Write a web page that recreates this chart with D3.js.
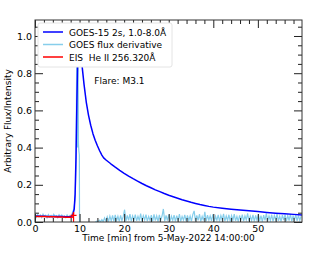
<!DOCTYPE html>
<html>
<head>
<meta charset="utf-8">
<script src="https://cdn.jsdelivr.net/npm/d3@7"></script>
<style>
  body { margin: 0; background: #fff; }
  text { font-family: "DejaVu Sans", sans-serif; fill: #000; }
</style>
</head>
<body>
<div id="chart"></div>
<script>
'use strict';

// GOES-15 2s flux, normalised [minutes, value]
var goesFlux = [
    [0, 0.032], [1, 0.031], [2, 0.031], [3, 0.030], [4, 0.030], [5, 0.029],
    [6, 0.029], [7, 0.028], [7.8, 0.028], [8.2, 0.030], [8.5, 0.040], [8.8, 0.070],
    [9.0, 0.15], [9.2, 0.35], [9.4, 0.65], [9.6, 0.90], [9.8, 1.0], [10.0, 0.97],
    [10.3, 0.90], [10.6, 0.83], [11.0, 0.74], [11.5, 0.645], [12.0, 0.575], [12.5, 0.52],
    [13.0, 0.475], [13.5, 0.44], [14.0, 0.41], [14.5, 0.383], [15.0, 0.36], [15.4, 0.345],
    [16, 0.332], [17, 0.313], [18, 0.295], [19, 0.278], [20, 0.262], [21, 0.247],
    [22, 0.233], [23, 0.220], [24, 0.207], [25, 0.195], [26, 0.184], [27, 0.173],
    [28, 0.163], [29, 0.153], [30, 0.144], [31, 0.136], [32, 0.128], [33, 0.120],
    [34, 0.113], [35, 0.106], [36, 0.100], [37, 0.094], [38, 0.089], [39, 0.084],
    [40, 0.080], [42, 0.074], [44, 0.069], [46, 0.064], [48, 0.060], [50, 0.056],
    [52, 0.051], [54, 0.047], [56, 0.044], [58, 0.041], [59.9, 0.038]
];

// GOES flux derivative around the impulsive phase [minutes, value]
var derivHead = [
    [0, 0.035], [0.3, 0.025], [0.6, 0.040], [0.9, 0.028], [1.2, 0.038], [1.5, 0.024],
    [1.8, 0.042], [2.1, 0.030], [2.4, 0.036], [2.7, 0.022], [3.0, 0.040], [3.3, 0.027],
    [3.6, 0.035], [3.9, 0.025], [4.2, 0.041], [4.5, 0.029], [4.8, 0.034], [5.1, 0.023],
    [5.4, 0.039], [5.7, 0.028], [6.0, 0.037], [6.3, 0.026], [6.6, 0.033], [6.9, 0.024],
    [7.2, 0.038], [7.5, 0.027], [7.8, 0.035], [8.1, 0.030], [8.4, 0.050], [8.7, 0.070],
    [9.0, 0.12], [9.2, 0.30], [9.35, 0.85], [9.45, 1.05], [9.55, 0.40], [9.65, 0.95],
    [9.75, 0.42], [9.85, 0.38], [9.95, 0.36], [10.0, -0.1], [10.5, -0.15], [11.5, -0.1],
    [12.5, -0.06], [13.3, -0.02], [13.6, 0.0]
];

// derivative in the decay phase, one value every 0.3 min from 13.8 min
var derivTailStart = 13.8;
var derivTailStep = 0.3;
var derivTail = [
    0.004, 0.000, 0.010, 0.001, 0.013, 0.002, 0.022, 0.004, 0.028, 0.003,
    0.032, 0.006, 0.035, 0.004, 0.038, 0.008, 0.031, 0.003, 0.036, 0.007,
    0.030, 0.066, 0.005, 0.036, 0.009, 0.042, 0.004, 0.033, 0.010, 0.039,
    0.006, 0.031, 0.008, 0.045, 0.003, 0.034, 0.011, 0.040, 0.005, 0.030,
    0.009, 0.037, 0.004, 0.041, 0.008, 0.033, 0.002, 0.038, 0.010, 0.032,
    0.070, 0.005, 0.036, 0.007, 0.040, 0.003, 0.031, 0.009, 0.037, 0.004,
    0.034, 0.008, 0.042, 0.003, 0.030, 0.010, 0.038, 0.005, 0.035, 0.007,
    0.032, 0.004, 0.040, 0.060, 0.006, 0.036, 0.009, 0.043, 0.003, 0.030,
    0.008, 0.055, 0.004, 0.037, 0.010, 0.033, 0.006, 0.041, 0.002, 0.031,
    0.009, 0.038, 0.004, 0.035, 0.011, 0.044, 0.005, 0.032, 0.008, 0.039,
    0.003, 0.034, 0.010, 0.042, 0.006, 0.030, 0.002, 0.036, 0.009, 0.040,
    0.005, 0.033, 0.011, 0.046, 0.004, 0.031, 0.008, 0.038, 0.003, 0.035,
    0.010, 0.041, 0.006, 0.034, 0.002, 0.037, 0.009, 0.047, 0.005, 0.032,
    0.008, 0.039, 0.004, 0.035, 0.011, 0.042, 0.006, 0.031, 0.003, 0.037,
    0.010, 0.040, 0.005, 0.034, 0.008, 0.043, 0.004, 0.033, 0.011, 0.038,
    0.006, 0.036, 0.009, 0.031
];

// EIS He II 256.320 intensity [minutes, value]
var eisHeII = [
    [0, 0.030], [1, 0.029], [2, 0.029], [3, 0.028], [4, 0.028], [5, 0.027],
    [6, 0.027], [7, 0.026], [8, 0.025], [8.5, 0.027], [8.65, 0.048]
];

var xMajor = [0, 10, 20, 30, 40, 50];
var yMajor = [0, 0.2, 0.4, 0.6, 0.8, 1.0];

var legendLabels = ['GOES-15 2s, 1.0-8.0Å', 'GOES flux derivative', 'EIS  He II 256.320Å'];
var legendColors = ['#0000ff', '#87ceeb', '#ff0000'];

var W = 311, H = 253;
var margin = {top: 20, right: 9, bottom: 31, left: 35};
var width = W - margin.left - margin.right;
var height = H - margin.top - margin.bottom;

var svg = d3.select('#chart').append('svg')
    .attr('width', W)
    .attr('height', H);

var g = svg.append('g')
    .attr('transform', 'translate(' + margin.left + ',' + margin.top + ')');

var x = d3.scaleLinear().domain([0, 59.9]).range([0, width]);
var y = d3.scaleLinear().domain([0, 1.086]).range([height, 0]);

svg.append('defs').append('clipPath').attr('id', 'clip')
    .append('rect').attr('width', width).attr('height', height);

var derivData = derivHead.concat(derivTail.map(function(v, i) {
    return [derivTailStart + i * derivTailStep, v];
}));

var line = d3.line()
    .x(function(d) { return x(d[0]); })
    .y(function(d) { return y(d[1]); });

var plot = g.append('g').attr('clip-path', 'url(#clip)');

plot.append('path').datum(derivData)
    .attr('d', line)
    .attr('fill', 'none')
    .attr('stroke', legendColors[1])
    .attr('stroke-width', 1.2);

plot.append('path').datum(goesFlux)
    .attr('d', line)
    .attr('fill', 'none')
    .attr('stroke', legendColors[0])
    .attr('stroke-width', 1.5)
    .attr('stroke-linejoin', 'round');

plot.append('path').datum(eisHeII)
    .attr('d', line)
    .attr('fill', 'none')
    .attr('stroke', legendColors[2])
    .attr('stroke-width', 1.5);

// end marker of the EIS series
var eisLast = eisHeII[eisHeII.length - 1];
plot.append('path')
    .attr('d', 'M' + (x(eisLast[0]) - 3) + ',' + y(eisLast[1] - 0.012) + 'h6' +
        'M' + x(eisLast[0]) + ',' + (y(eisLast[1]) - 1) + 'V' + height)
    .attr('stroke', legendColors[2])
    .attr('stroke-width', 1.2);

// axes: ticks pointing inwards on all four sides
var tickColor = '#222';
function styleAxis(sel) {
    sel.select('.domain').remove();
    sel.selectAll('line').attr('stroke', tickColor);
    sel.selectAll('text').style('font-family', '"DejaVu Sans", sans-serif').attr('font-size', 9.5);
}

var xMinor = d3.range(0, 60, 2).filter(function(v) { return xMajor.indexOf(v) < 0; });
var yMinor = d3.range(0.05, 1.08, 0.05).filter(function(v) {
    return yMajor.every(function(m) { return Math.abs(m - v) > 1e-6; });
});

g.append('g').attr('transform', 'translate(0,' + height + ')')
    .call(d3.axisBottom(x).tickValues(xMajor).tickSizeInner(-8).tickSizeOuter(0).tickPadding(3)
        .tickFormat(d3.format('d')))
    .call(styleAxis);
g.append('g').attr('transform', 'translate(0,' + height + ')')
    .call(d3.axisBottom(x).tickValues(xMinor).tickSizeInner(-4).tickSizeOuter(0).tickFormat(''))
    .call(styleAxis);
g.append('g')
    .call(d3.axisTop(x).tickValues(xMajor).tickSizeInner(-8).tickSizeOuter(0).tickFormat(''))
    .call(styleAxis);
g.append('g')
    .call(d3.axisTop(x).tickValues(xMinor).tickSizeInner(-4).tickSizeOuter(0).tickFormat(''))
    .call(styleAxis);

g.append('g')
    .call(d3.axisLeft(y).tickValues(yMajor).tickSizeInner(-8).tickSizeOuter(0).tickPadding(3)
        .tickFormat(d3.format('.1f')))
    .call(styleAxis);
g.append('g')
    .call(d3.axisLeft(y).tickValues(yMinor).tickSizeInner(-4).tickSizeOuter(0).tickFormat(''))
    .call(styleAxis);
g.append('g').attr('transform', 'translate(' + width + ',0)')
    .call(d3.axisRight(y).tickValues(yMajor).tickSizeInner(-8).tickSizeOuter(0).tickFormat(''))
    .call(styleAxis);
g.append('g').attr('transform', 'translate(' + width + ',0)')
    .call(d3.axisRight(y).tickValues(yMinor).tickSizeInner(-4).tickSizeOuter(0).tickFormat(''))
    .call(styleAxis);

g.append('rect')
    .attr('width', width)
    .attr('height', height)
    .attr('fill', 'none')
    .attr('stroke', '#333')
    .attr('stroke-width', 1);

// legend, white box hides the peak like the original
var legend = g.append('g').attr('transform', 'translate(3,3)');
legend.append('rect')
    .attr('width', 134)
    .attr('height', 44)
    .attr('rx', 2)
    .attr('fill', '#fff')
    .attr('stroke', '#e4e4e4');
legendLabels.forEach(function(label, i) {
    var ly = 9 + i * 12.5;
    legend.append('line')
        .attr('x1', 5).attr('x2', 25)
        .attr('y1', ly).attr('y2', ly)
        .attr('stroke', legendColors[i])
        .attr('stroke-width', 1.5);
    legend.append('text')
        .attr('x', 31)
        .attr('y', ly + 3.5)
        .attr('font-size', 9)
        .style('white-space', 'pre')
        .text(label);
});

g.append('text')
    .attr('x', x(13.3))
    .attr('y', 64)
    .attr('font-size', 9)
    .text('Flare: M3.1');

svg.append('text')
    .attr('x', margin.left + width / 2)
    .attr('y', 241)
    .attr('text-anchor', 'middle')
    .attr('font-size', 9)
    .text('Time [min] from 5-May-2022 14:00:00');

svg.append('text')
    .attr('transform', 'translate(11,' + (margin.top + height / 2) + ') rotate(-90)')
    .attr('text-anchor', 'middle')
    .attr('font-size', 9)
    .text('Arbitrary Flux/Intensity');
</script>
</body>
</html>
